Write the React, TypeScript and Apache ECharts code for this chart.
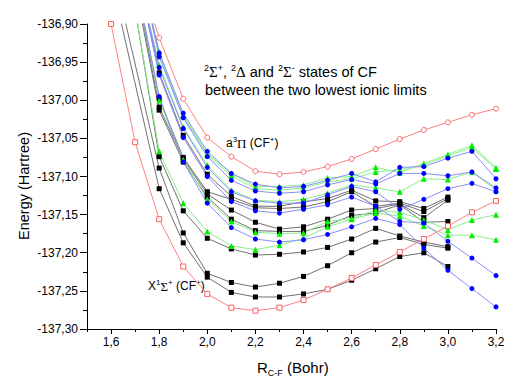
import React, { useEffect, useRef } from 'react';
import * as echarts from 'echarts';

// Internuclear distance R(C-F) in Bohr
const R = [1.6, 1.7, 1.8, 1.9, 2.0, 2.1, 2.2, 2.3, 2.4, 2.5, 2.6, 2.7, 2.8, 2.9, 3.0, 3.1, 3.2];
const xLabelValues = [1.6, 1.8, 2.0, 2.2, 2.4, 2.6, 2.8, 3.0, 3.2];
const xMinorValues = [1.5, 1.7, 1.9, 2.1, 2.3, 2.5, 2.7, 2.9, 3.1];

// Ionic limits (red)
const X1SigmaCFplus = [-136.900, -137.055, -137.156, -137.218, -137.254, -137.272, -137.276, -137.272, -137.262, -137.248, -137.233, -137.216, -137.199, -137.182, -137.165, -137.147, -137.132];
const a3PiCFplus = [null, -136.817, -136.918, -136.998, -137.049, -137.074, -137.093, -137.097, -137.094, -137.087, -137.077, -137.064, -137.051, -137.039, -137.029, -137.019, -137.011];

// Black curves (squares)
const black1 = [null, -136.82, -136.964, -137.046, -137.097, -137.126, -137.139, -137.139, -137.133, -137.129, -137.118, -137.132, -137.133, -137.142, -137.127, null, null];
const black2 = [null, -136.84, -136.998, -137.075, -137.120, -137.130, -137.141, -137.142, -137.140, -137.133, -137.120, -137.139, -137.135, -137.146, -137.129, null, null];
const black3 = [null, -136.84, -137.009, -137.077, -137.123, -137.144, -137.160, -137.169, -137.166, -137.156, -137.144, -137.142, -137.136, -137.154, -137.131, null, null];
const black4 = [null, -136.85, -137.013, -137.081, -137.127, -137.156, -137.171, -137.172, -137.172, -137.164, -137.151, -137.148, -137.137, -137.160, -137.159, null, null];
const black5 = [null, -136.88, -137.074, -137.145, -137.181, -137.195, -137.203, -137.202, -137.199, -137.193, -137.182, -137.168, -137.178, -137.186, -137.192, null, null];
const black6 = [-136.816, null, -137.089, -137.174, -137.227, -137.239, -137.245, -137.240, -137.231, -137.217, -137.200, -137.186, -137.180, -137.189, -137.194, null, null];
const black7 = [-136.840, null, -137.116, -137.187, -137.232, -137.252, -137.258, -137.258, -137.254, -137.248, -137.236, -137.221, -137.205, -137.200, -137.218, null, null];

// Green curves (triangles)
const green1 = [null, -136.80, -136.936, -137.019, -137.070, -137.096, -137.113, -137.113, -137.111, -137.102, -137.100, -137.088, -137.095, -137.083, -137.071, -137.059, -137.089];
const green2 = [null, -136.80, -136.939, -137.021, -137.072, -137.099, -137.116, -137.118, -137.115, -137.107, -137.103, -137.094, -137.091, -137.085, -137.073, -137.062, -137.090];
const green3 = [null, -136.82, -136.954, -137.035, -137.085, -137.118, -137.131, -137.133, -137.130, -137.122, -137.111, -137.115, -137.120, -137.103, -137.104, -137.094, -137.118];
const green4 = [null, -136.84, -137.000, -137.078, -137.130, -137.159, -137.173, -137.175, -137.174, -137.159, -137.155, -137.144, -137.147, -137.157, -137.170, -137.157, -137.150];
const green5 = [null, -136.88, -137.067, -137.135, -137.172, -137.191, -137.196, -137.190, -137.181, -137.166, -137.156, -137.148, -137.152, -137.165, -137.177, -137.177, -137.183];

// Blue curves (circles)
const blue1 = [null, -136.80, -136.938, -137.017, -137.067, -137.096, -137.110, -137.115, -137.113, -137.105, -137.096, -137.107, -137.088, -137.087, -137.076, -137.067, -137.103];
const blue2 = [null, -136.80, -136.943, -137.023, -137.074, -137.105, -137.119, -137.122, -137.120, -137.111, -137.104, -137.110, -137.096, -137.096, -137.099, -137.094, -137.115];
const blue3 = [null, -136.82, -136.957, -137.037, -137.088, -137.120, -137.132, -137.135, -137.135, -137.124, -137.113, -137.120, -137.143, -137.130, -137.116, -137.109, -137.120];
const blue4 = [null, -136.82, -136.967, -137.049, -137.100, -137.133, -137.145, -137.148, -137.143, -137.137, -137.127, -137.139, -137.159, -137.161, -137.185, -137.207, -137.230];
const blue5 = [null, -136.84, -136.995, -137.081, -137.135, -137.167, -137.182, -137.186, -137.183, -137.176, -137.166, -137.155, -137.163, -137.194, -137.223, -137.247, -137.271];

const blacks = [black1, black2, black3, black4, black5, black6, black7];
const greens = [green1, green2, green3, green4, green5];
const blues = [blue1, blue2, blue3, blue4, blue5];

const FONT = 'Arial, "Liberation Sans", sans-serif';
const SERIF = '"Liberation Serif", "Times New Roman", serif';

function pairs(ys: (number | null)[]) {
  const out: number[][] = [];
  R.forEach((r, i) => {
    const y = ys[i];
    if (y !== null && y !== undefined) out.push([r, y]);
  });
  return out;
}

function lineSeries(ys: (number | null)[], lineColor: string, symbol: string, symbolSize: number, markColor: string, fill?: string) {
  return {
    type: 'line',
    data: pairs(ys),
    clip: true,
    symbol,
    symbolSize,
    showSymbol: true,
    lineStyle: { color: lineColor, width: 1 },
    itemStyle: fill
      ? { color: fill, borderColor: markColor, borderWidth: 1 }
      : { color: markColor, borderWidth: 0 },
    emphasis: { disabled: true },
    silent: true,
  };
}

export default function App() {
  const ref = useRef<HTMLDivElement>(null);
  useEffect(() => {
    if (!ref.current) return;
    const chart = echarts.init(ref.current, null, { renderer: 'svg' });
    const series: any[] = [];
    blacks.forEach((b) => series.push(lineSeries(b, '#707070', 'rect', 5, '#000000')));
    greens.forEach((g) => series.push(lineSeries(g, '#88f088', 'triangle', 6, '#00f000')));
    blues.forEach((b) => series.push(lineSeries(b, '#8c8cff', 'circle', 5, '#0000ff')));
    series.push(lineSeries(X1SigmaCFplus, '#ff8080', 'rect', 5, '#ff6060', '#ffffff'));
    series.push(lineSeries(a3PiCFplus, '#ff8080', 'circle', 5, '#ff6060', '#ffffff'));

    chart.setOption({
      animation: false,
      backgroundColor: '#ffffff',
      grid: { left: 87, top: 24, width: 409, height: 305, containLabel: false },
      xAxis: [
        {
          type: 'value',
          min: 1.5,
          max: 3.2,
          axisLine: { show: true, onZero: false, lineStyle: { color: '#000', width: 1 } },
          axisTick: { show: true, customValues: xLabelValues, length: 5, lineStyle: { color: '#000' } },
          axisLabel: {
            customValues: xLabelValues,
            color: '#000',
            fontSize: 12,
            fontFamily: FONT,
            margin: 7,
            formatter: (v: number) => v.toFixed(1).replace('.', ','),
          },
          splitLine: { show: false },
        },
        {
          type: 'value',
          min: 1.5,
          max: 3.2,
          position: 'bottom',
          axisLine: { show: false, onZero: false },
          axisTick: { show: true, customValues: xMinorValues, length: 3, lineStyle: { color: '#000' } },
          axisLabel: { show: false },
          splitLine: { show: false },
        },
      ],
      yAxis: {
        type: 'value',
        min: -137.3,
        max: -136.9,
        interval: 0.05,
        axisLine: { show: true, onZero: false, lineStyle: { color: '#000', width: 1 } },
        axisTick: { show: true, length: 7, lineStyle: { color: '#000' } },
        minorTick: { show: true, splitNumber: 2, length: 4, lineStyle: { color: '#000' } },
        axisLabel: {
          color: '#000',
          fontSize: 12,
          fontFamily: FONT,
          margin: 9,
          formatter: (v: number) => v.toFixed(2).replace('.', ','),
        },
        splitLine: { show: false },
        minorSplitLine: { show: false },
      },
      series,
      graphic: [
        {
          type: 'text',
          x: 24,
          y: 186,
          rotation: Math.PI / 2,
          style: {
            text: 'Energy (Hartree)',
            fill: '#000',
            font: `14.5px ${FONT}`,
            align: 'center',
            verticalAlign: 'middle',
          },
        },
        {
          type: 'text',
          x: 257,
          y: 367,
          style: {
            text: '{r|R}{sub|C-F}{m| (Bohr)}',
            fill: '#000',
            align: 'left',
            verticalAlign: 'middle',
            rich: {
              r: { fontSize: 15, fontFamily: FONT, lineHeight: 20, verticalAlign: 'middle' },
              sub: { fontSize: 9, fontFamily: FONT, lineHeight: 9, verticalAlign: 'bottom' },
              m: { fontSize: 15, fontFamily: FONT, lineHeight: 20, verticalAlign: 'middle' },
            },
          },
        },
        {
          type: 'text',
          x: 204,
          y: 72,
          style: {
            text: '{s|2}{g|Σ}{s|+}{n|, }{s|2}{g|Δ}{n| and }{s|2}{g|Σ}{s|-}{n| states of CF}',
            fill: '#000',
            align: 'left',
            verticalAlign: 'middle',
            rich: {
              s: { fontSize: 9, fontFamily: FONT, lineHeight: 9, verticalAlign: 'top' },
              g: { fontSize: 15, fontFamily: SERIF, lineHeight: 17, verticalAlign: 'middle' },
              n: { fontSize: 14.5, fontFamily: FONT, lineHeight: 17, verticalAlign: 'middle' },
            },
          },
        },
        {
          type: 'text',
          x: 205,
          y: 90,
          style: {
            text: 'between the two lowest ionic limits',
            fill: '#000',
            font: `14.5px ${FONT}`,
            align: 'left',
            verticalAlign: 'middle',
          },
        },
        {
          type: 'text',
          x: 226,
          y: 143,
          style: {
            text: '{n|a}{s|3}{g|Π}{n| (CF}{s|+}{n|)}',
            fill: '#000',
            align: 'left',
            verticalAlign: 'middle',
            rich: {
              s: { fontSize: 8, fontFamily: FONT, lineHeight: 8, verticalAlign: 'top' },
              g: { fontSize: 13, fontFamily: SERIF, lineHeight: 15, verticalAlign: 'middle' },
              n: { fontSize: 12, fontFamily: FONT, lineHeight: 15, verticalAlign: 'middle' },
            },
          },
        },
        {
          type: 'text',
          x: 148,
          y: 286,
          style: {
            text: '{n|X}{s|1}{g|Σ}{s|+}{n| (CF}{s|+}{n|)}',
            fill: '#000',
            align: 'left',
            verticalAlign: 'middle',
            rich: {
              s: { fontSize: 8, fontFamily: FONT, lineHeight: 8, verticalAlign: 'top' },
              g: { fontSize: 13, fontFamily: SERIF, lineHeight: 15, verticalAlign: 'middle' },
              n: { fontSize: 12, fontFamily: FONT, lineHeight: 15, verticalAlign: 'middle' },
            },
          },
        },
      ],
    });
    return () => chart.dispose();
  }, []);
  return (
    <div
      ref={ref}
      style={{ position: 'fixed', left: 0, top: 0, width: 530, height: 386, background: '#fff' }}
    />
  );
}
